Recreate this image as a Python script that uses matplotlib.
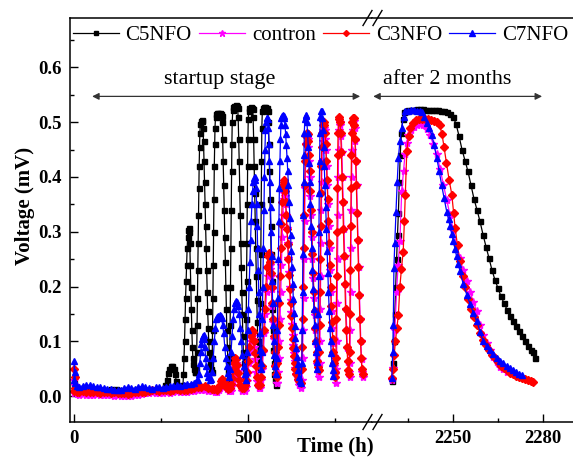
import matplotlib
matplotlib.use("Agg")
import matplotlib.pyplot as plt
from matplotlib.lines import Line2D
from matplotlib.ticker import MultipleLocator, FixedLocator

plt.rcParams["font.family"] = ["Liberation Serif", "DejaVu Serif"]

# (time h, voltage mV) -- startup stage (left panel)
c5_left = [
    (0, 0.025), (3, 0.016), (15, 0.012), (30, 0.014), (45, 0.013), (60, 0.012), (75, 0.011),
    (90, 0.012), (105, 0.014), (120, 0.013), (135, 0.012), (150, 0.011), (165, 0.012),
    (180, 0.013), (195, 0.012), (210, 0.011), (225, 0.012), (240, 0.013), (255, 0.012),
    (262, 0.02), (266, 0.03), (270, 0.042), (274, 0.05), (278, 0.055), (282, 0.055),
    (286, 0.05), (290, 0.04), (294, 0.028), (298, 0.02), (303, 0.015), (309, 0.014),
    (313, 0.02), (314.5, 0.04), (316, 0.07), (317.5, 0.1), (319, 0.14), (320.5, 0.18),
    (322, 0.21), (323.5, 0.24), (325, 0.27), (326.5, 0.29), (328, 0.303), (329.5, 0.307),
    (331, 0.3), (332.5, 0.28), (334, 0.24), (335.5, 0.2), (337, 0.16), (338.5, 0.12),
    (340, 0.09), (341.5, 0.07), (343, 0.058), (345, 0.05), (347, 0.045), (349, 0.045),
    (351, 0.05),
    (352.5, 0.08), (353.5, 0.13), (354.5, 0.18), (355.5, 0.23), (356.5, 0.28), (357.5, 0.33),
    (358.5, 0.38), (359.5, 0.42), (360.5, 0.455), (361.5, 0.48), (363, 0.497), (365, 0.503),
    (367, 0.504), (369, 0.502), (370.5, 0.49), (372, 0.465), (373.5, 0.43), (375, 0.39),
    (376.5, 0.35), (378, 0.31), (379.5, 0.27), (381, 0.23), (382.5, 0.19), (384, 0.155),
    (385.5, 0.125), (387, 0.1), (388.5, 0.08), (390.5, 0.06), (392.5, 0.05), (395, 0.045),
    (397, 0.07), (398, 0.12), (399, 0.18), (400, 0.24), (401, 0.3), (402, 0.36), (403, 0.42),
    (404, 0.46), (405, 0.49), (406.5, 0.51), (409, 0.515), (412, 0.516), (415, 0.516),
    (418, 0.516), (421, 0.515), (424, 0.512), (425.5, 0.5), (427, 0.47), (428.5, 0.43),
    (430, 0.385), (431.5, 0.34), (433, 0.29), (434.5, 0.245), (436, 0.2), (437.5, 0.16),
    (439, 0.12), (440.5, 0.09), (442, 0.065), (443.5, 0.045), (445, 0.035), (446.5, 0.03),
    (447.5, 0.07), (448.5, 0.13), (449.5, 0.2), (450.5, 0.27), (451.5, 0.34), (452.5, 0.41),
    (453.5, 0.46), (454.5, 0.5), (456, 0.522), (458, 0.528), (461, 0.53), (464, 0.531),
    (467, 0.53), (470, 0.525), (471.5, 0.51), (473, 0.47), (474.5, 0.43), (476, 0.38),
    (477.5, 0.33), (479, 0.28), (480.5, 0.235), (482, 0.19), (483.5, 0.15), (485, 0.11),
    (486.5, 0.08), (488, 0.06), (490, 0.045), (492, 0.035),
    (493.5, 0.07), (494.5, 0.14), (495.5, 0.21), (496.5, 0.28), (497.5, 0.35), (498.5, 0.42),
    (499.5, 0.47), (500.5, 0.505), (502, 0.52), (504, 0.526), (507, 0.527), (510, 0.526),
    (513, 0.524), (514.5, 0.51), (516, 0.47), (517.5, 0.42), (519, 0.37), (520.5, 0.32),
    (522, 0.27), (523.5, 0.22), (525, 0.175), (526.5, 0.135), (528, 0.1), (529.5, 0.075),
    (531, 0.06), (533, 0.05),
    (534.5, 0.09), (535.5, 0.17), (536.5, 0.26), (537.5, 0.35), (538.5, 0.43), (539.5, 0.49),
    (541, 0.52), (543, 0.526), (546, 0.527), (549, 0.527), (552, 0.526), (555, 0.525),
    (557, 0.52), (558.5, 0.5), (560, 0.46), (561.5, 0.41), (563, 0.36), (564.5, 0.31),
    (566, 0.26), (567.5, 0.21), (569, 0.16), (570.5, 0.12), (572, 0.085), (573.5, 0.06),
    (575, 0.04), (577, 0.03), (580, 0.02),
]

contron_left = [
    (0, 0.005), (1, 0.03), (2, 0.02), (4, 0.008), (8, 0.004), (15, 0.003), (25, 0.004),
    (35, 0.003), (45, 0.002), (55, 0.003), (65, 0.004), (75, 0.003), (85, 0.002), (95, 0.003),
    (105, 0.002), (115, 0.001), (125, 0.002), (135, 0.0), (145, 0.001), (155, 0.0), (165, 0.001),
    (175, 0.002), (185, 0.003), (195, 0.004), (205, 0.005), (215, 0.006), (225, 0.007),
    (235, 0.006), (245, 0.005), (255, 0.006), (265, 0.007), (275, 0.006), (285, 0.008),
    (295, 0.009), (305, 0.008), (315, 0.007), (325, 0.008), (335, 0.009), (345, 0.01),
    (355, 0.011), (365, 0.012), (375, 0.012), (385, 0.01), (395, 0.009), (404, 0.008),
    (412, 0.008), (416, 0.011), (420, 0.015), (424, 0.021), (428, 0.025), (432, 0.022),
    (436, 0.018), (440, 0.013), (444, 0.01),
    (450, 0.01), (453, 0.018), (456, 0.03), (459, 0.042), (462, 0.053), (465, 0.06),
    (468, 0.057), (471, 0.046), (474, 0.034), (478, 0.02), (484, 0.01),
    (490, 0.01), (494, 0.016), (497, 0.027), (500, 0.042), (503, 0.06), (506, 0.08),
    (509, 0.1), (512, 0.11), (515, 0.105), (518, 0.09), (521, 0.068), (524, 0.045),
    (527, 0.027), (531, 0.015),
    (535, 0.015), (538, 0.03), (541, 0.05), (544, 0.08), (547, 0.115), (550, 0.15), (553, 0.19),
    (556, 0.22), (559, 0.237), (562, 0.24), (564, 0.233), (566, 0.22), (568, 0.195),
    (570, 0.165), (572, 0.135), (574, 0.105), (576, 0.078), (578, 0.055), (580, 0.038),
    (582, 0.025),
    (584, 0.025), (586, 0.045), (588, 0.07), (590, 0.1), (592, 0.14), (594, 0.19), (596, 0.24),
    (598, 0.29), (600, 0.33), (602, 0.36), (604, 0.37), (606, 0.366), (608, 0.35), (610, 0.33),
    (612, 0.306), (614, 0.28), (616, 0.253), (618, 0.227), (620, 0.2), (622, 0.176),
    (624, 0.153), (626, 0.132), (628, 0.112), (630, 0.094), (632, 0.078), (634, 0.064),
    (636, 0.052), (639, 0.04), (643, 0.028), (647, 0.02), (652, 0.015),
    (655, 0.03), (656.5, 0.07), (658, 0.12), (659.5, 0.18), (661, 0.25), (662.5, 0.32),
    (664, 0.38), (665.5, 0.43), (667, 0.46), (669, 0.472), (671, 0.47), (673, 0.455),
    (675, 0.43), (677, 0.4), (679, 0.365), (681, 0.33), (683, 0.29), (685, 0.25), (687, 0.215),
    (689, 0.18), (691, 0.148), (693, 0.12), (695, 0.095), (697, 0.075), (699, 0.058),
    (701, 0.045), (704, 0.035),
    (705.5, 0.06), (706.5, 0.1), (707.5, 0.16), (708.5, 0.22), (709.5, 0.28), (710.5, 0.34),
    (711.5, 0.39), (712.5, 0.43), (714, 0.465), (716, 0.485), (718, 0.49), (720, 0.485),
    (722, 0.47), (724, 0.45), (726, 0.42), (728, 0.385), (730, 0.35), (732, 0.31), (734, 0.27),
    (736, 0.23), (738, 0.19), (740, 0.155), (742, 0.125), (744, 0.097), (746, 0.074),
    (748, 0.055), (750, 0.04), (753, 0.025),
    (754, 0.05), (755, 0.1), (756, 0.17), (757, 0.25), (758, 0.33), (759, 0.4), (760, 0.45),
    (761.5, 0.485), (763.5, 0.5), (765.5, 0.495), (767.5, 0.475), (769.5, 0.445), (771.5, 0.4),
    (773.5, 0.355), (775.5, 0.305), (777.5, 0.255), (779.5, 0.205), (781.5, 0.16),
    (783.5, 0.12), (785.5, 0.088), (787.5, 0.062), (789.5, 0.045), (791.5, 0.035),
    (792.5, 0.06), (793.5, 0.12), (794.5, 0.19), (795.5, 0.27), (796.5, 0.34), (797.5, 0.4),
    (798.5, 0.45), (800, 0.485), (802, 0.5), (804, 0.502), (806, 0.49), (808, 0.465),
    (810, 0.43), (812, 0.385), (814, 0.335), (816, 0.285), (818, 0.235), (820, 0.185),
    (822, 0.14), (824, 0.1), (826, 0.068), (828, 0.045), (830, 0.035),
]

c3_left = [
    (0, 0.01), (1, 0.05), (2, 0.035), (4, 0.015), (8, 0.008), (15, 0.007), (25, 0.009),
    (35, 0.008), (45, 0.007), (55, 0.008), (65, 0.007), (75, 0.006), (85, 0.008), (95, 0.007),
    (105, 0.006), (115, 0.007), (125, 0.006), (135, 0.005), (145, 0.006), (155, 0.004),
    (165, 0.005), (175, 0.007), (185, 0.008), (195, 0.007), (205, 0.008), (215, 0.01),
    (225, 0.012), (235, 0.011), (245, 0.01), (255, 0.012), (265, 0.011), (275, 0.01),
    (285, 0.012), (295, 0.013), (305, 0.012), (315, 0.011), (325, 0.012), (335, 0.014),
    (345, 0.015), (355, 0.016), (365, 0.017), (375, 0.018), (385, 0.015), (395, 0.014),
    (402, 0.013),
    (410, 0.012), (414, 0.015), (418, 0.02), (422, 0.027), (426, 0.032), (430, 0.028),
    (434, 0.022), (438, 0.017), (442, 0.014),
    (448, 0.015), (451, 0.022), (454, 0.034), (457, 0.047), (460, 0.06), (463, 0.07),
    (466, 0.068), (469, 0.057), (472, 0.042), (475, 0.03), (478, 0.02), (482, 0.015),
    (488, 0.015), (492, 0.02), (495, 0.03), (498, 0.045), (501, 0.065), (504, 0.09),
    (507, 0.11), (510, 0.12), (513, 0.118), (516, 0.1), (519, 0.078), (522, 0.055),
    (525, 0.035), (529, 0.02),
    (533, 0.02), (536, 0.035), (539, 0.055), (542, 0.085), (545, 0.12), (548, 0.16), (551, 0.2),
    (554, 0.235), (557, 0.255), (560, 0.262), (562, 0.258), (564, 0.245), (566, 0.225),
    (568, 0.2), (570, 0.17), (572, 0.14), (574, 0.11), (576, 0.08), (578, 0.055), (580, 0.04),
    (582, 0.035), (584, 0.06), (586, 0.09), (588, 0.13), (590, 0.17), (592, 0.22), (594, 0.27),
    (596, 0.315), (598, 0.355), (600, 0.385), (602, 0.395), (604, 0.39), (606, 0.375),
    (608, 0.355), (610, 0.33), (612, 0.305), (614, 0.278), (616, 0.25), (618, 0.222),
    (620, 0.195), (622, 0.17), (624, 0.147), (626, 0.125), (628, 0.105), (630, 0.088),
    (632, 0.073), (634, 0.06), (636, 0.05), (639, 0.04), (643, 0.032), (647, 0.027),
    (651, 0.025),
    (653.5, 0.05), (655, 0.09), (656.5, 0.14), (658, 0.2), (659.5, 0.27), (661, 0.33),
    (662.5, 0.385), (664, 0.43), (665.5, 0.46), (667, 0.475), (669, 0.481), (671, 0.478),
    (673, 0.465), (675, 0.44), (677, 0.41), (679, 0.375), (681, 0.34), (683, 0.3), (685, 0.26),
    (687, 0.225), (689, 0.19), (691, 0.155), (693, 0.125), (695, 0.1), (697, 0.08),
    (699, 0.064), (701, 0.053), (703, 0.048),
    (704.5, 0.08), (705.5, 0.13), (706.5, 0.19), (707.5, 0.25), (708.5, 0.31), (709.5, 0.37),
    (710.5, 0.42), (711.5, 0.455), (713, 0.48), (715, 0.495), (717, 0.5), (719, 0.495),
    (721, 0.48), (723, 0.46), (725, 0.43), (727, 0.395), (729, 0.36), (731, 0.32), (733, 0.28),
    (735, 0.24), (737, 0.2), (739, 0.165), (741, 0.135), (743, 0.105), (745, 0.08),
    (747, 0.06), (749, 0.045), (751, 0.035),
    (752.5, 0.07), (753.5, 0.14), (754.5, 0.22), (755.5, 0.3), (756.5, 0.38), (757.5, 0.44),
    (758.5, 0.48), (760, 0.505), (762, 0.51), (764, 0.5), (766, 0.48), (768, 0.445),
    (770, 0.4), (772, 0.355), (774, 0.305), (776, 0.255), (778, 0.205), (780, 0.16),
    (782, 0.12), (784, 0.09), (786, 0.065), (788, 0.048), (790, 0.04),
    (791.5, 0.08), (792.5, 0.15), (793.5, 0.23), (794.5, 0.31), (795.5, 0.38), (796.5, 0.44),
    (797.5, 0.48), (799, 0.5), (801, 0.507), (803, 0.507), (805, 0.495), (807, 0.47),
    (809, 0.43), (811, 0.385), (813, 0.335), (815, 0.285), (817, 0.235), (819, 0.185),
    (821, 0.14), (823, 0.1), (825, 0.07), (827, 0.05), (829, 0.04),
]

c7_left = [
    (0, 0.03), (1, 0.064), (2, 0.045), (4, 0.025), (8, 0.018), (15, 0.017), (25, 0.019),
    (35, 0.02), (45, 0.02), (55, 0.018), (65, 0.017), (75, 0.016), (85, 0.015), (95, 0.014),
    (105, 0.013), (115, 0.012), (125, 0.011), (135, 0.012), (145, 0.015), (155, 0.017),
    (165, 0.015), (175, 0.014), (185, 0.016), (195, 0.018), (205, 0.017), (215, 0.015),
    (225, 0.014), (235, 0.016), (245, 0.017), (255, 0.015), (265, 0.016), (275, 0.018),
    (285, 0.019), (295, 0.02), (305, 0.019), (315, 0.02), (325, 0.022), (335, 0.023),
    (345, 0.025), (352, 0.03),
    (355, 0.03), (358, 0.04), (361, 0.06), (364, 0.08), (366, 0.095), (368, 0.105), (370, 0.11),
    (372, 0.112), (374, 0.105), (376, 0.09), (378, 0.07), (380, 0.055), (382, 0.042),
    (385, 0.035), (390, 0.03),
    (394, 0.032), (397, 0.045), (400, 0.07), (403, 0.1), (406, 0.125), (409, 0.14),
    (412, 0.145), (415, 0.147), (418, 0.148), (421, 0.147), (424, 0.142), (427, 0.13),
    (430, 0.115), (433, 0.09), (436, 0.07), (439, 0.055), (442, 0.042), (445, 0.035),
    (448, 0.05), (451, 0.08), (454, 0.11), (457, 0.14), (460, 0.16), (463, 0.17), (466, 0.173),
    (469, 0.172), (472, 0.165), (475, 0.15), (478, 0.125), (481, 0.1), (484, 0.075),
    (487, 0.055), (490, 0.04), (493, 0.03),
    (495, 0.045), (497, 0.08), (499, 0.12), (501, 0.16), (503, 0.2), (505, 0.245), (507, 0.285),
    (509, 0.32), (511, 0.35), (513, 0.375), (515, 0.39), (517, 0.398), (519, 0.4), (521, 0.395),
    (523, 0.38), (524.5, 0.35), (526, 0.31), (527.5, 0.27), (529, 0.23), (530.5, 0.19),
    (532, 0.15), (533.5, 0.115), (535, 0.085), (536.5, 0.06), (538, 0.05),
    (539.5, 0.08), (541, 0.14), (542.5, 0.2), (544, 0.27), (545.5, 0.34), (547, 0.4),
    (548.5, 0.45), (550, 0.485), (551.5, 0.5), (553, 0.507), (555, 0.508), (557, 0.505),
    (558.5, 0.49), (560, 0.46), (561.5, 0.43), (563, 0.39), (564.5, 0.345), (566, 0.3),
    (567.5, 0.255), (569, 0.21), (570.5, 0.17), (572, 0.13), (573.5, 0.1), (575, 0.075),
    (577, 0.055), (579, 0.04), (581, 0.04),
    (582.5, 0.07), (584, 0.12), (585.5, 0.18), (587, 0.25), (588.5, 0.32), (590, 0.38),
    (591.5, 0.43), (593, 0.47), (594.5, 0.495), (596, 0.508), (598, 0.512), (600, 0.513),
    (602, 0.512), (604, 0.508), (606, 0.495), (608, 0.478), (610, 0.458), (612, 0.435),
    (614, 0.41), (616, 0.385), (618, 0.355), (620, 0.325), (622, 0.295), (624, 0.265),
    (626, 0.235), (628, 0.205), (630, 0.178), (632, 0.152), (634, 0.128), (636, 0.107),
    (638, 0.088), (640, 0.072), (642, 0.058), (644, 0.047), (647, 0.035), (650, 0.028),
    (653, 0.025),
    (654.5, 0.06), (655.5, 0.12), (656.5, 0.19), (657.5, 0.26), (658.5, 0.33), (659.5, 0.39),
    (660.5, 0.44), (661.5, 0.48), (663, 0.505), (665, 0.513), (667, 0.512), (669, 0.5),
    (671, 0.48), (673, 0.455), (675, 0.425), (677, 0.39), (679, 0.35), (681, 0.31), (683, 0.27),
    (685, 0.23), (687, 0.195), (689, 0.16), (691, 0.13), (693, 0.1), (695, 0.08), (697, 0.062),
    (699, 0.05),
    (700.5, 0.09), (701.5, 0.15), (702.5, 0.22), (703.5, 0.3), (704.5, 0.37), (705.5, 0.43),
    (706.5, 0.48), (707.5, 0.51), (709, 0.52), (711, 0.52), (713, 0.508), (715, 0.485),
    (717, 0.455), (719, 0.42), (721, 0.385), (723, 0.345), (725, 0.305), (727, 0.265),
    (729, 0.225), (731, 0.19), (733, 0.155), (735, 0.125), (737, 0.1), (739, 0.078),
    (741, 0.06), (743, 0.047), (745, 0.037),
]

# after 2 months (right panel)
c5_right = [
    (2229.7, 0.027), (2230, 0.06), (2230.3, 0.1), (2230.6, 0.15), (2230.9, 0.2),
    (2231.2, 0.25), (2231.5, 0.295), (2231.8, 0.335), (2232.1, 0.39), (2232.4, 0.44),
    (2232.8, 0.48), (2233.2, 0.505), (2233.7, 0.518), (2234.2, 0.521), (2235, 0.522),
    (2236, 0.523), (2237, 0.523), (2238, 0.524), (2239, 0.524), (2240, 0.524), (2241, 0.523),
    (2242, 0.523), (2243, 0.523), (2244, 0.522), (2245, 0.522), (2246, 0.521), (2247, 0.52),
    (2248, 0.518), (2249, 0.515), (2250, 0.51), (2251, 0.497), (2252, 0.475), (2253, 0.45),
    (2254, 0.43), (2255, 0.41), (2256, 0.385), (2257, 0.36), (2258, 0.34), (2259, 0.319),
    (2260, 0.295), (2261, 0.273), (2262, 0.252), (2263, 0.23), (2264, 0.212), (2265, 0.197),
    (2266, 0.182), (2267, 0.17), (2268, 0.158), (2269, 0.147), (2270, 0.137), (2271, 0.128),
    (2272, 0.119), (2273, 0.109), (2274, 0.1), (2275, 0.092), (2276, 0.084), (2276.7, 0.08),
    (2277.3, 0.07),
]

contron_right = [
    (2229.6, 0.03), (2230.1, 0.051), (2230.6, 0.12), (2231.2, 0.191), (2231.7, 0.24),
    (2232.3, 0.283), (2232.9, 0.374), (2233.5, 0.41), (2234, 0.441), (2234.6, 0.462),
    (2235.1, 0.477), (2236, 0.486), (2237, 0.492), (2237.9, 0.495), (2239, 0.496),
    (2240.1, 0.495), (2241.2, 0.488), (2242.3, 0.477), (2243.4, 0.46), (2244.6, 0.441),
    (2245.7, 0.415), (2246.8, 0.386), (2247.9, 0.358), (2249, 0.331), (2250.1, 0.303),
    (2251.2, 0.276), (2252.3, 0.252), (2253.4, 0.23), (2254.6, 0.21), (2255.7, 0.19),
    (2256.8, 0.172), (2257.9, 0.155), (2259, 0.13), (2260.1, 0.112), (2261.2, 0.097),
    (2262.3, 0.084), (2263.4, 0.072), (2264.6, 0.062), (2265.7, 0.054), (2266.8, 0.049),
    (2267.9, 0.045),
]

c3_right = [
    (2229.6, 0.033), (2230, 0.05), (2230.4, 0.075), (2230.8, 0.1), (2231.3, 0.125),
    (2231.8, 0.149), (2232.3, 0.2), (2232.8, 0.232), (2233.4, 0.264), (2233.8, 0.32),
    (2234.1, 0.368), (2234.6, 0.447), (2235.2, 0.475), (2235.7, 0.489), (2236.5, 0.498),
    (2237.5, 0.504), (2238.5, 0.505), (2239.5, 0.506), (2240.5, 0.506), (2241.5, 0.505),
    (2242.5, 0.504), (2243.5, 0.503), (2244.5, 0.5), (2245.5, 0.495), (2246.3, 0.479),
    (2247, 0.455), (2247.8, 0.426), (2248.7, 0.395), (2249.6, 0.368), (2250.2, 0.335),
    (2250.7, 0.307), (2251.5, 0.275), (2252.3, 0.246), (2253.2, 0.22), (2254, 0.2),
    (2255, 0.178), (2256, 0.16), (2257, 0.145), (2258, 0.13), (2259, 0.116), (2260, 0.103),
    (2261, 0.093), (2262, 0.084), (2263, 0.076), (2264, 0.069), (2265, 0.062), (2266, 0.056),
    (2267, 0.051), (2268, 0.047), (2269, 0.043), (2270, 0.04), (2271, 0.037), (2272, 0.035),
    (2273, 0.033), (2274, 0.031), (2275, 0.03), (2276, 0.028), (2276.5, 0.026),
]

c7_right = [
    (2229.6, 0.033), (2229.9, 0.08), (2230.1, 0.13), (2230.3, 0.234), (2230.6, 0.28),
    (2231, 0.337), (2231.4, 0.39), (2231.8, 0.435), (2232.3, 0.465), (2232.9, 0.489),
    (2233.5, 0.51), (2234, 0.52), (2235, 0.521), (2236, 0.522), (2237, 0.522), (2238, 0.521),
    (2239, 0.52), (2239.6, 0.518), (2240.4, 0.51), (2241.2, 0.498), (2242, 0.49),
    (2242.9, 0.477), (2243.7, 0.458), (2244.6, 0.435), (2245.4, 0.41), (2246.2, 0.386),
    (2247, 0.362), (2247.9, 0.337), (2248.5, 0.323), (2249, 0.31), (2249.6, 0.296),
    (2250.1, 0.283), (2250.7, 0.268), (2251.2, 0.255), (2251.8, 0.241), (2252.3, 0.228),
    (2253.4, 0.205), (2254.6, 0.185), (2255.7, 0.168), (2256.8, 0.152), (2257.9, 0.137),
    (2259, 0.118), (2260.1, 0.1), (2261.2, 0.092), (2262.3, 0.084), (2263.4, 0.077),
    (2264.6, 0.07), (2265.7, 0.065), (2266.8, 0.06), (2268, 0.055), (2269, 0.051),
    (2270, 0.047), (2271, 0.044), (2272, 0.041), (2272.9, 0.039),
]

series_names = ["C5NFO", "contron", "C3NFO", "C7NFO"]
series_left = [c5_left, contron_left, c3_left, c7_left]
series_right = [c5_right, contron_right, c3_right, c7_right]
colors = ["#000000", "#ff00ff", "#ff0000", "#0000ff"]
markers = ["s", "*", "D", "^"]
msizes = [3.6, 6.0, 3.8, 5.0]

W, H = 573, 459


def box(x0, x1, y0, y1):
    return [x0 / W, 1 - y1 / H, (x1 - x0) / W, (y1 - y0) / H]


fig = plt.figure(figsize=(W / 100, H / 100), dpi=100)
ax1 = fig.add_axes(box(70, 372, 18, 422))
ax2 = fig.add_axes(box(372, 573, 18, 422))

for name, left, right, c, m, ms in zip(series_names, series_left, series_right,
                                        colors, markers, msizes):
    t, v = zip(*left)
    ax1.plot(t, v, color=c, marker=m, ms=ms, lw=0.9, mec=c, label=name)
    t, v = zip(*right)
    ax2.plot(t, v, color=c, marker=m, ms=ms, lw=0.9, mec=c)

ax1.set_xlim(-11.5, 856)
ax2.set_xlim(2223, 2290)
for ax in (ax1, ax2):
    ax.set_ylim(-0.047, 0.69)
    for s in ax.spines.values():
        s.set_linewidth(1.1)
    ax.tick_params(which="both", direction="in", top=False, right=False, width=1,
                   labelsize=13.5)
    ax.tick_params(which="major", length=5.5, pad=6)
    ax.tick_params(which="minor", length=3)

ax1.spines["right"].set_visible(False)
ax2.spines["left"].set_visible(False)
ax2.spines["right"].set_visible(False)

ax1.xaxis.set_major_locator(FixedLocator([0, 500]))
ax1.xaxis.set_minor_locator(FixedLocator([250, 750]))
ax2.xaxis.set_major_locator(FixedLocator([2250, 2280]))
ax2.xaxis.set_minor_locator(FixedLocator([2235, 2265]))
ax1.yaxis.set_major_locator(MultipleLocator(0.1))
ax1.yaxis.set_minor_locator(MultipleLocator(0.05))
ax1.yaxis.set_major_formatter(plt.FormatStrFormatter("%.1f"))
ax2.tick_params(which="both", left=False, labelleft=False)

for ax in (ax1, ax2):
    for lbl in ax.get_xticklabels() + ax.get_yticklabels():
        lbl.set_fontweight("bold")

# stage arrows and labels
arrow = dict(arrowstyle="<|-|>", color="#333333", lw=0.9, mutation_scale=10,
             shrinkA=0, shrinkB=0)
ax1.annotate("", xy=(52, 0.547), xytext=(822, 0.547), arrowprops=arrow)
ax2.annotate("", xy=(2223.4, 0.547), xytext=(2279.7, 0.547), arrowprops=arrow,
             annotation_clip=False)
ax1.text(418, 0.578, "startup stage", ha="center", va="center", fontsize=16)
ax2.text(2248, 0.578, "after 2 months", ha="center", va="center", fontsize=16)

fig.text(335 / W, 1 - 446 / H, "Time (h)", ha="center", va="center",
         fontsize=15, fontweight="bold")
fig.text(25 / W, 1 - 206 / H, "Voltage (mV)", ha="center", va="center",
         rotation=90, fontsize=15, fontweight="bold")

handles, labels = ax1.get_legend_handles_labels()
fig.legend(handles, labels, loc="center", bbox_to_anchor=(320.5 / W, 1 - 35 / H),
           ncol=4, frameon=False, fontsize=15, handlelength=2.2, handletextpad=0.33,
           columnspacing=0.35, borderpad=0, borderaxespad=0, markerscale=0.8)

# axis break marks
for xc in (367.5, 377.5):
    for yc in (18, 422):
        fig.add_artist(Line2D([(xc - 4.5) / W, (xc + 4.5) / W],
                              [1 - (yc + 7.5) / H, 1 - (yc - 7.5) / H],
                              transform=fig.transFigure, color="black", lw=1))

fig.savefig("out.png", dpi=100)
